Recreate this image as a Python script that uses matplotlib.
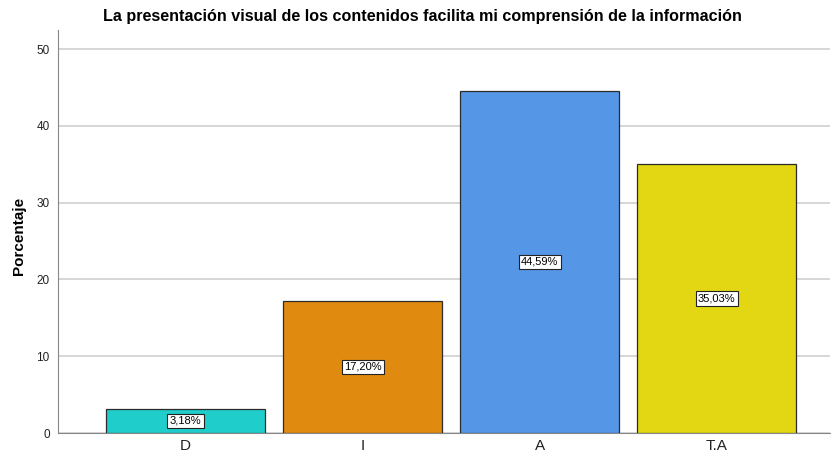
import matplotlib
matplotlib.use("Agg")
import matplotlib.pyplot as plt

categories = ["D", "I", "A", "T.A"]
values = [3.18, 17.20, 44.59, 35.03]
labels = ["3,18%", "17,20%", "44,59%", "35,03%"]
colors = ["#1fcecb", "#e08a10", "#5596e6", "#e2d712"]
yticks = [0, 10, 20, 30, 40, 50]

plt.rcParams['font.family'] = ['Liberation Sans', 'DejaVu Sans']
fig = plt.figure(figsize=(8.32, 4.58), dpi=100)
ax = fig.add_axes([58/832, 25/458, 772/832, 403/458])

x = list(range(len(categories)))
bars = ax.bar(x, values, width=0.9, color=colors, edgecolor="#2b2b2b", linewidth=0.9, zorder=3)
for xi, v, lab in zip(x, values, labels):
    ax.text(xi, v / 2, lab, ha="center", va="center", fontsize=8, zorder=4,
            bbox=dict(boxstyle="square,pad=0.2", facecolor="white", edgecolor="#222222", linewidth=0.8))

ax.set_xlim(-0.72, 3.64)
ax.set_ylim(0, 52.5)
ax.set_yticks(yticks)
ax.set_yticklabels([str(t) for t in yticks], fontsize=8.5, color="#222222")
ax.set_xticks(x)
ax.set_xticklabels(categories, fontsize=11, color="#222222")
ax.tick_params(axis="x", length=0, pad=4)
ax.tick_params(axis="y", length=0, pad=6)
ax.yaxis.grid(True, color="#cfcfcf", linewidth=1.2, zorder=0)
ax.set_axisbelow(True)
for s in ["top", "right"]:
    ax.spines[s].set_visible(False)
ax.spines["left"].set_color("#888888")
ax.spines["bottom"].set_color("#888888")
ax.set_ylabel("Porcentaje", fontsize=11, fontweight="bold")
ax.yaxis.set_label_coords(-0.042, 0.49)
fig.text(422.5/832, 1 - 17/458, "La presentación visual de los contenidos facilita mi comprensión de la información",
         ha="center", va="center", fontsize=11.6, fontweight="bold")

fig.savefig("out.png", dpi=100)
